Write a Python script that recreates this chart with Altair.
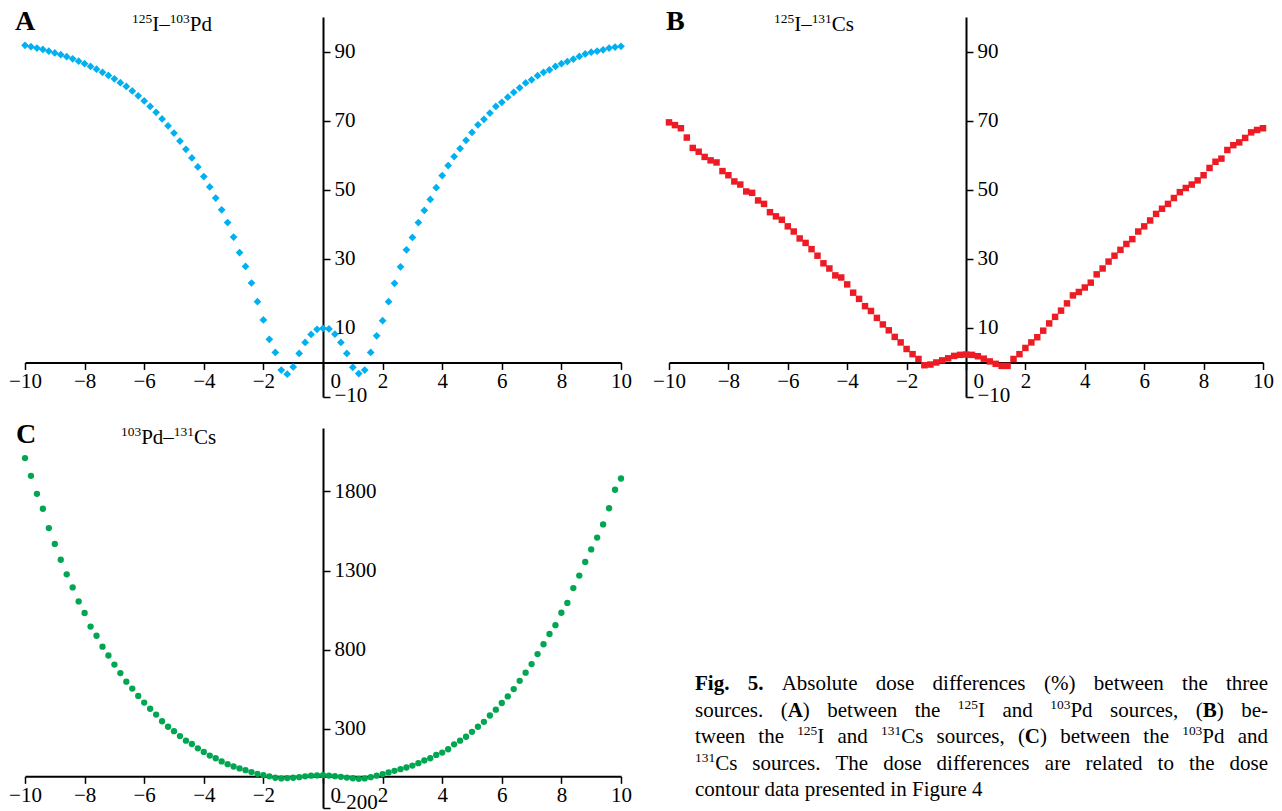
import altair as alt
import pandas as pd

# ---------------- data ----------------
x_grid = [round(-10 + 0.2 * i, 1) for i in range(101)]  # sampling positions -10 ... 10

a_vals = [91.8, 91.4, 91.0, 90.6, 90.1, 89.6, 89.1, 88.5, 87.9, 87.2,
          86.5, 85.7, 84.9, 84.0, 83.1, 82.1, 81.0, 79.9, 78.6, 77.2,
          75.7, 74.1, 72.4, 70.5, 68.5, 66.4, 64.1, 61.7, 59.2, 56.6,
          53.8, 50.8, 47.6, 44.2, 40.5, 36.3, 31.8, 27.8, 23.0,
          17.6, 12.3, 6.7, 2.9, -2.2, -3.4, -1.3, 2.6, 5.8, 8.1, 9.6, 9.9,
          9.7, 8.2, 5.8, 2.6, -1.4, -3.2, -2.2, 2.9, 7.7, 12.1, 17.6,
          22.9, 27.7, 32.6, 36.2, 40.5, 44.0, 47.2, 50.6, 54.1, 57.0,
          59.6, 61.9, 64.3, 66.6, 68.8, 70.4, 72.2, 74.1, 75.3, 76.8,
          78.2, 79.5, 80.9, 81.8, 83.0, 84.0, 84.7, 85.7, 86.5, 87.1,
          87.8, 88.6, 89.3, 89.8, 90.1, 90.5, 91.0, 91.3, 91.5]

b_vals = [69.5, 68.7, 67.8, 65.1, 62.1, 61.0, 59.5, 58.5, 57.9, 55.4,
          54.2, 52.4, 51.5, 49.5, 49.1, 46.9, 45.9, 43.5, 42.3, 41.3,
          39.4, 37.9, 35.9, 34.6, 32.8, 30.9, 28.7, 27.2, 25.2, 24.6,
          22.6, 20.2, 18.4, 16.3, 14.9, 12.9, 11.0, 9.3, 7.4, 5.8,
          3.9, 2.4, 1.0, -0.8,
          -0.6, 0.0, 0.6, 1.2, 1.9, 2.2, 2.3, 2.2, 1.8, 1.1, 0.3, -0.4, -1.0, -1.0,
          1.0, 2.4, 4.2, 5.8, 7.3, 9.2, 11.3, 13.2, 15.0, 17.1,
          19.4, 20.4, 21.7, 23.1, 25.5, 27.2, 29.2, 30.9, 32.6, 34.3,
          35.7, 37.9, 39.4, 41.1, 43.0, 44.5, 45.9, 47.6, 49.3, 50.5,
          51.5, 52.7, 54.2, 56.3, 58.1, 59.0, 61.5, 62.9, 63.7, 65.0,
          66.6, 67.3, 67.8]

c_vals = [2010, 1898, 1784, 1690, 1568, 1468, 1368, 1276, 1193, 1105,
          1032, 946, 888, 819, 763, 706, 652, 598, 554, 508,
          466, 427, 390, 348, 313, 285, 254, 225, 204, 177,
          154, 131, 114, 94, 77, 62, 50, 39, 27, 16, 8, 0,
          -9, -13, -11, -9, -5, 0, 4, 6, 8, 5, 1, -3, -8, -12, -16, -13, -5,
          4, 14, 25, 35, 45, 56, 68, 83, 100, 114, 135, 150, 171, 202,
          225, 250, 281, 313, 344, 384, 421, 463, 505, 551, 603, 655,
          709, 772, 834, 899, 955, 1033, 1095, 1189, 1268, 1354, 1433,
          1508, 1591, 1693, 1810, 1881]

x_ticks = [-10, -8, -6, -4, -2, 0, 2, 4, 6, 8, 10]
ab_y_ticks = [-10, 10, 30, 50, 70, 90]
c_y_ticks = [-200, 300, 800, 1300, 1800]

panel_letters = ["A", "B", "C"]
# titles as runs: (text, style) with style n = normal, s = superscript
panel_titles = [
    [("125", "s"), ("I–", "n"), ("103", "s"), ("Pd", "n")],
    [("125", "s"), ("I–", "n"), ("131", "s"), ("Cs", "n")],
    [("103", "s"), ("Pd–", "n"), ("131", "s"), ("Cs", "n")],
]

# caption: lines -> words -> runs (text, style) with style n / b (bold) / s (superscript)
caption_lines = [
    [[("Fig.", "b")], [("5.", "b")], [("Absolute", "n")], [("dose", "n")],
     [("differences", "n")], [("(%)", "n")], [("between", "n")],
     [("the", "n")], [("three", "n")]],
    [[("sources.", "n")], [("(", "n"), ("A", "b"), (")", "n")],
     [("between", "n")], [("the", "n")], [("125", "s"), ("I", "n")], [("and", "n")],
     [("103", "s"), ("Pd", "n")], [("sources,", "n")],
     [("(", "n"), ("B", "b"), (")", "n")], [("be-", "n")]],
    [[("tween", "n")], [("the", "n")], [("125", "s"), ("I", "n")], [("and", "n")],
     [("131", "s"), ("Cs", "n")], [("sources,", "n")],
     [("(", "n"), ("C", "b"), (")", "n")], [("between", "n")],
     [("the", "n")], [("103", "s"), ("Pd", "n")], [("and", "n")]],
    [[("131", "s"), ("Cs", "n")], [("sources.", "n")], [("The", "n")], [("dose", "n")],
     [("differences", "n")], [("are", "n")], [("related", "n")],
     [("to", "n")], [("the", "n")], [("dose", "n")]],
    [[("contour", "n")], [("data", "n")], [("presented", "n")],
     [("in", "n")], [("Figure", "n")], [("4", "n")]],
]

# ---------------- styling ----------------
FONT = "Liberation Serif"
LABEL_SIZE = 21
H = 380
W_A = 596
W_B = 594
SUP_RATIO = 0.64
SUP_RAISE = 0.36

# Times / Liberation Serif advance widths (per 1000 em) for text layout
_REG = {' ': 250, '(': 333, ')': 333, ',': 250, '.': 250, '-': 333, '%': 833,
        '–': 500,
        'A': 722, 'B': 667, 'C': 667, 'F': 556, 'I': 333, 'P': 556, 'T': 611,
        'a': 444, 'b': 500, 'c': 444, 'd': 500, 'e': 444, 'f': 333, 'g': 500,
        'h': 500, 'i': 278, 'l': 278, 'n': 500, 'o': 500, 'p': 500, 'r': 333,
        's': 389, 't': 278, 'u': 500, 'w': 722}
_BOLD = {'A': 722, 'B': 667, 'C': 722, 'F': 611, 'i': 278, 'g': 500, '.': 250}


def run_width(s, style, size):
    if style == "s":
        size = size * SUP_RATIO
    tot = 0
    for ch in s:
        if ch.isdigit():
            tot += 500
        elif style == "b" and ch in _BOLD:
            tot += _BOLD[ch]
        else:
            tot += _REG.get(ch, 500)
    return tot * size / 1000.0


def layout_runs(runs, x, y, size):
    out = []
    for t, st in runs:
        if st == "s":
            out.append({"t": t, "px": x, "py": y - SUP_RAISE * size,
                        "fs": size * SUP_RATIO, "bold": False})
        else:
            out.append({"t": t, "px": x, "py": y, "fs": size, "bold": st == "b"})
        x += run_width(t, st, size)
    return out


CAP_SIZE = 21
CAP_LEFT, CAP_RIGHT = 26, 599
CAP_BASE0, CAP_STEP = 262, 26.5

rows = []
for li, words in enumerate(caption_lines):
    widths = [sum(run_width(t, s, CAP_SIZE) for t, s in w) for w in words]
    if li < len(caption_lines) - 1:
        gap = (CAP_RIGHT - CAP_LEFT - sum(widths)) / (len(words) - 1)
    else:
        gap = run_width(" ", "n", CAP_SIZE)
    xpos = CAP_LEFT
    ypos = CAP_BASE0 + li * CAP_STEP
    for w, wd in zip(words, widths):
        rows.extend(layout_runs(w, xpos, ypos, CAP_SIZE))
        xpos += wd + gap
caption_df = pd.DataFrame(rows)


def text_layer(df):
    base = alt.Chart(df).encode(
        x=alt.X("px:Q", scale=None, axis=None),
        y=alt.Y("py:Q", scale=None, axis=None),
        size=alt.Size("fs:Q", scale=None, legend=None),
        text="t:N",
    )
    reg = base.transform_filter("!datum.bold").mark_text(
        font=FONT, align="left", baseline="alphabetic", color="black")
    bold = base.transform_filter("datum.bold").mark_text(
        font=FONT, fontWeight="bold", align="left", baseline="alphabetic",
        color="black")
    return reg, bold


def panel(values, ydomain, yticks, color, shape, size, width, letter, title,
          letter_x, title_x, label_y, bottom_label_offset):
    df = pd.DataFrame({"x": x_grid, "y": values})
    y0 = H * ydomain[1] / (ydomain[1] - ydomain[0])
    ymin = ydomain[0]
    xaxis = alt.Axis(
        values=x_ticks, orient="bottom", offset=-(H - y0), grid=False,
        domainColor="black", domainWidth=2, tickColor="black", tickWidth=1.5,
        tickSize=7, labelFont=FONT, labelFontSize=LABEL_SIZE, labelColor="black",
        labelPadding=1, labelFlush=False, labelOverlap=False, title=None,
        labelAlign={"condition": {"test": "datum.value === 0", "value": "left"},
                    "value": "center"},
        labelOffset={"condition": {"test": "datum.value === 0", "value": 7},
                     "value": 0},
    )
    yaxis = alt.Axis(
        values=yticks, orient="right", offset=-(width / 2), grid=False,
        domainColor="black", domainWidth=2, tickColor="black", tickWidth=1.5,
        tickSize=7, labelFont=FONT, labelFontSize=LABEL_SIZE, labelColor="black",
        labelPadding=4, labelFlush=False, labelOverlap=False, title=None,
        format="d",
        labelBaseline={"condition": {"test": f"datum.value === {ymin}",
                                     "value": "alphabetic"},
                       "value": "middle"},
        labelOffset={"condition": {"test": f"datum.value === {ymin}",
                                   "value": bottom_label_offset},
                     "value": 0},
    )
    pts = alt.Chart(df).mark_point(
        shape=shape, filled=True, size=size, color=color, opacity=1, strokeWidth=0
    ).encode(
        x=alt.X("x:Q", scale=alt.Scale(domain=[-10, 10], nice=False, zero=False), axis=xaxis),
        y=alt.Y("y:Q", scale=alt.Scale(domain=list(ydomain), nice=False, zero=False), axis=yaxis),
    )
    layers = [pts]
    layers.append(alt.Chart(pd.DataFrame({"t": [letter]})).mark_text(
        font=FONT, fontSize=28, fontWeight="bold", align="left", baseline="alphabetic",
        color="black"
    ).encode(text="t:N", x=alt.value(letter_x), y=alt.value(label_y + 10)))
    # title runs (normal text and superscripts), placed one after another
    xr = title_x
    tsize = 21
    base_y = label_y + 11
    for t, st in title:
        fs = tsize * SUP_RATIO if st == "s" else tsize
        yy = base_y - SUP_RAISE * tsize if st == "s" else base_y
        layers.append(alt.Chart(pd.DataFrame({"t": [t]})).mark_text(
            font=FONT, fontSize=fs, align="left", baseline="alphabetic",
            color="black"
        ).encode(text="t:N", x=alt.value(xr), y=alt.value(yy)))
        xr += run_width(t, st, tsize)
    return alt.layer(*layers).properties(width=width, height=H)


pA = panel(a_vals, (-10, 100), ab_y_ticks, "#00B0F0", "diamond", 60, W_A,
           panel_letters[0], panel_titles[0], -10, 107, 3, 4)
pB = panel(b_vals, (-10, 100), ab_y_ticks, "#ED1C24", "square", 42, W_B,
           panel_letters[1], panel_titles[1], -3, 105, 3, 4)
pC = panel(c_vals, (-200, 2200), c_y_ticks, "#00A651", "circle", 40, W_A,
           panel_letters[2], panel_titles[2], -9, 96, 5, 0)

cap_reg, cap_bold = text_layer(caption_df)
caption = alt.layer(cap_reg, cap_bold).properties(width=W_B, height=H)

chart = alt.concat(
    pA, pB, pC, caption, columns=2,
    spacing={"row": 31, "column": 48}, bounds="flush"
).properties(padding=0, background="white").configure_view(stroke=None)

chart.save("out.html", embed_options={"renderer": "svg", "actions": False})
